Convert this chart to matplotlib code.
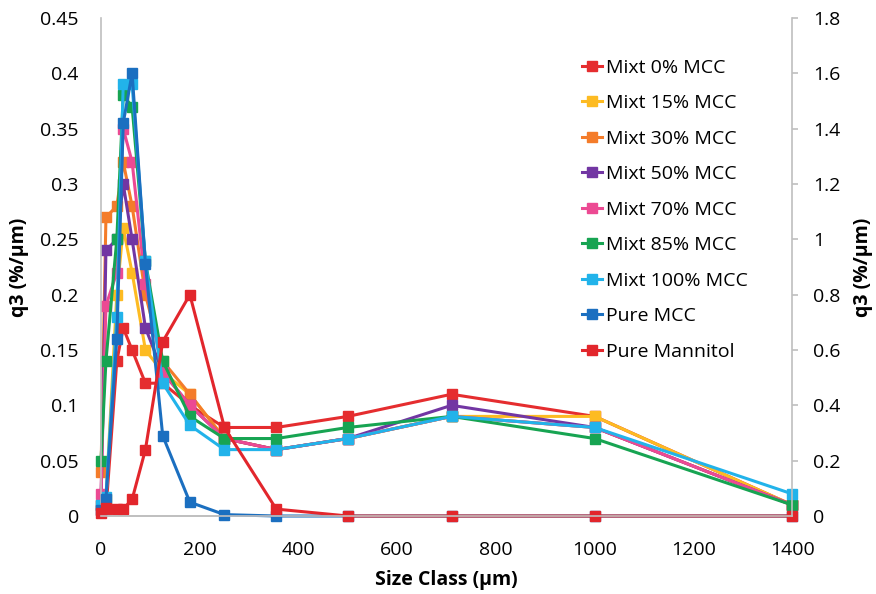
import numpy as np
import matplotlib
matplotlib.use("Agg")
import matplotlib.pyplot as plt

plt.rcParams['font.family'] = ['Open Sans', 'DejaVu Sans']

# size classes (µm)
size_class = [0, 10, 32, 45, 63, 90, 125, 180, 250, 355, 500, 710, 1000, 1400]

# q3 of the mixtures (left axis, %/µm)
mixt_0 = [0.005, 0.005, 0.14, 0.17, 0.15, 0.12, 0.12, 0.10, 0.08, 0.08, 0.09, 0.11, 0.09, 0.01]
mixt_15 = [0.01, 0.015, 0.20, 0.26, 0.22, 0.15, 0.13, 0.11, 0.07, 0.06, 0.07, 0.09, 0.09, 0.01]
mixt_30 = [0.04, 0.27, 0.28, 0.32, 0.28, 0.20, 0.14, 0.11, 0.07, 0.06, 0.07, 0.09, 0.08, 0.01]
mixt_50 = [0.01, 0.24, 0.25, 0.30, 0.25, 0.17, 0.13, 0.10, 0.07, 0.06, 0.07, 0.10, 0.08, 0.01]
mixt_70 = [0.02, 0.19, 0.22, 0.35, 0.32, 0.21, 0.13, 0.10, 0.07, 0.06, 0.07, 0.09, 0.08, 0.01]
mixt_85 = [0.05, 0.14, 0.25, 0.38, 0.37, 0.23, 0.14, 0.09, 0.07, 0.07, 0.08, 0.09, 0.07, 0.01]
mixt_100 = [0.01, 0.017, 0.18, 0.39, 0.39, 0.23, 0.12, 0.082, 0.06, 0.06, 0.07, 0.09, 0.08, 0.02]

# pure components (right axis, %/µm)
pure_mcc = [0.02, 0.06, 0.64, 1.42, 1.60, 0.91, 0.29, 0.05, 0.005, 0.0, 0.0, 0.0, 0.0, 0.0]
pure_mannitol = [0.01, 0.03, 0.025, 0.025, 0.06, 0.24, 0.63, 0.80, 0.32, 0.025, 0.0, 0.0, 0.0, 0.0]

left_series = [
    ("Mixt 0% MCC", mixt_0, "#E52D2F"),
    ("Mixt 15% MCC", mixt_15, "#FDBB22"),
    ("Mixt 30% MCC", mixt_30, "#F47C2A"),
    ("Mixt 50% MCC", mixt_50, "#7236A3"),
    ("Mixt 70% MCC", mixt_70, "#EC4A93"),
    ("Mixt 85% MCC", mixt_85, "#17A452"),
    ("Mixt 100% MCC", mixt_100, "#22B3EA"),
]
right_series = [
    ("Pure MCC", pure_mcc, "#1B6FC0"),
    ("Pure Mannitol", pure_mannitol, "#E2262C"),
]

fig = plt.figure(figsize=(8.76, 5.94), dpi=100)
ax = fig.add_axes([0.1153, 0.1313, 0.789, 0.8384])
ax2 = ax.twinx()

handles = []
for name, vals, col in left_series:
    h, = ax.plot(size_class, vals, color=col, lw=2.2, marker='s', ms=6.5,
                 label=name, clip_on=False)
    handles.append(h)
for name, vals, col in right_series:
    h, = ax2.plot(size_class, vals, color=col, lw=2.2, marker='s', ms=6.5,
                  label=name, clip_on=False)
    handles.append(h)

ax.set_xlim(0, 1400)
ax.set_ylim(0, 0.45)
ax2.set_ylim(0, 1.8)
ax.set_xticks(np.arange(0, 1401, 200))
ax.set_yticks(np.arange(0, 0.451, 0.05))
ax.set_yticklabels(['0', '0.05', '0.1', '0.15', '0.2', '0.25', '0.3', '0.35', '0.4', '0.45'])
ax2.set_yticks(np.arange(0, 1.81, 0.2))
ax2.set_yticklabels(['0', '0.2', '0.4', '0.6', '0.8', '1', '1.2', '1.4', '1.6', '1.8'])

for a in (ax, ax2):
    a.spines['top'].set_visible(False)
    for s in ('left', 'right', 'bottom'):
        a.spines[s].set_color('#BFBFBF')
        a.spines[s].set_linewidth(1.2)
ax2.spines['left'].set_visible(False)
ax.spines['right'].set_visible(False)

ax.tick_params(axis='y', colors='#BFBFBF', labelcolor='black', labelsize=14,
               length=0, pad=16)
ax.tick_params(axis='x', colors='#BFBFBF', labelcolor='black', labelsize=14,
               length=0, pad=18)
ax2.tick_params(axis='y', colors='#BFBFBF', labelcolor='black', labelsize=14,
                length=4, width=1.2, pad=11)

ax.set_xlabel('Size Class (µm)', fontsize=14, fontweight='bold', labelpad=8)
ax.set_ylabel('q3 (%/µm)', fontsize=14, fontweight='bold', labelpad=8)
ax2.set_ylabel('q3 (%/µm)', fontsize=14, fontweight='bold', labelpad=9)

ax.legend(handles=handles, loc='upper left', bbox_to_anchor=(0.685, 0.934),
          frameon=False, fontsize=14, handlelength=1.0, handletextpad=0.2,
          labelspacing=0.9, borderaxespad=0)

fig.savefig('out.png', dpi=100)
